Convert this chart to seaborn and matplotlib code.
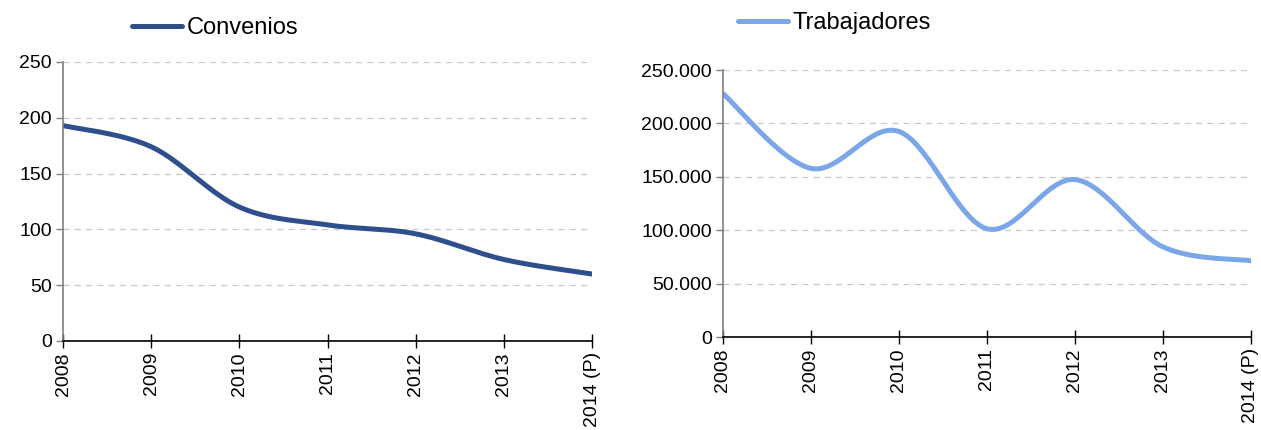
import numpy as np
import pandas as pd
import matplotlib
matplotlib.use("Agg")
import matplotlib.pyplot as plt
import seaborn as sns
from matplotlib.ticker import FuncFormatter

sns.set_theme(style="white")
plt.rcParams['font.family'] = ['Liberation Sans', 'DejaVu Sans']

years = ["2008", "2009", "2010", "2011", "2012", "2013", "2014 (P)"]
convenios = [193, 174, 120, 104, 96, 73, 60]
trabajadores = [228000, 158000, 192500, 101500, 147500, 84500, 71500]

COL_CONV = "#2F4E8C"
COL_TRAB = "#7BA7E8"


def smooth(xs, ys, n=40):
    """Catmull-Rom style Bezier smoothing (as in spreadsheet 'smoothed line')."""
    xs = np.asarray(xs, float)
    ys = np.asarray(ys, float)
    px = np.concatenate([[xs[0]], xs, [xs[-1]]])
    py = np.concatenate([[ys[0]], ys, [ys[-1]]])
    outx, outy = [], []
    t = np.linspace(0, 1, n)
    for i in range(1, len(px) - 2):
        p0 = np.array([px[i], py[i]])
        p3 = np.array([px[i + 1], py[i + 1]])
        c1 = p0 + (np.array([px[i + 1], py[i + 1]]) - np.array([px[i - 1], py[i - 1]])) / 6
        c2 = p3 - (np.array([px[i + 2], py[i + 2]]) - np.array([px[i], py[i]])) / 6
        b = ((1 - t) ** 3)[:, None] * p0 + (3 * (1 - t) ** 2 * t)[:, None] * c1 + \
            (3 * (1 - t) * t ** 2)[:, None] * c2 + (t ** 3)[:, None] * p3
        if i > 1:
            b = b[1:]
        outx.extend(b[:, 0])
        outy.extend(b[:, 1])
    return np.array(outx), np.array(outy)


fig = plt.figure(figsize=(12.61, 4.30), dpi=100)
ax1 = fig.add_axes([0.050, 0.207, 0.4195, 0.649])
ax2 = fig.add_axes([0.5733, 0.216, 0.4187, 0.621])

idx = np.arange(len(years))
TICK_FS = 14


def draw(ax, vals, color, label, ymax, step, fmt):
    sx, sy = smooth(idx, vals)
    df = pd.DataFrame({"x": sx, "y": sy})
    sns.lineplot(data=df, x="x", y="y", ax=ax, color=color, linewidth=3.6,
                 sort=False, estimator=None, label=label)
    ax.set_xlim(0, len(years) - 1)
    ax.set_ylim(0, ymax)
    ax.set_yticks(np.arange(0, ymax + 1, step))
    ax.yaxis.set_major_formatter(FuncFormatter(fmt))
    ax.set_xticks(idx)
    ax.set_xticklabels(years, rotation=90, fontsize=TICK_FS)
    ax.tick_params(axis='y', labelsize=TICK_FS, direction='out', length=5, width=1,
                   color='#808080', pad=3, left=True)
    ax.tick_params(axis='x', direction='inout', length=10, width=1, color='black',
                   pad=3, bottom=True)
    ax.set_xlabel("")
    ax.set_ylabel("")
    for s in ['top', 'right']:
        ax.spines[s].set_visible(False)
    ax.spines['left'].set_color('#808080')
    ax.spines['left'].set_linewidth(1.2)
    ax.spines['bottom'].set_color('black')
    ax.spines['bottom'].set_linewidth(1.2)
    ax.grid(axis='y', color='#C8C8C8', linestyle=(0, (5, 4)), linewidth=0.9)
    ax.set_axisbelow(True)
    for t in ax.get_yticklabels() + ax.get_xticklabels():
        t.set_color('black')


draw(ax1, convenios, COL_CONV, "Convenios", 250, 50, lambda v, p: f"{int(v)}")
draw(ax2, trabajadores, COL_TRAB, "Trabajadores", 250000, 50000,
     lambda v, p: f"{int(v):,}".replace(",", "."))

for ax, (lx, ly) in ((ax1, (132, 28)), (ax2, (738, 23))):
    leg = ax.legend(loc='center left', bbox_to_anchor=(lx / 1261, 1 - ly / 430),
                    bbox_transform=fig.transFigure, frameon=False, fontsize=17,
                    handlelength=2.1, handletextpad=0.2, borderaxespad=0, borderpad=0)
    for t in leg.get_texts():
        t.set_color('black')

fig.savefig("out.png", dpi=100, facecolor='white')
